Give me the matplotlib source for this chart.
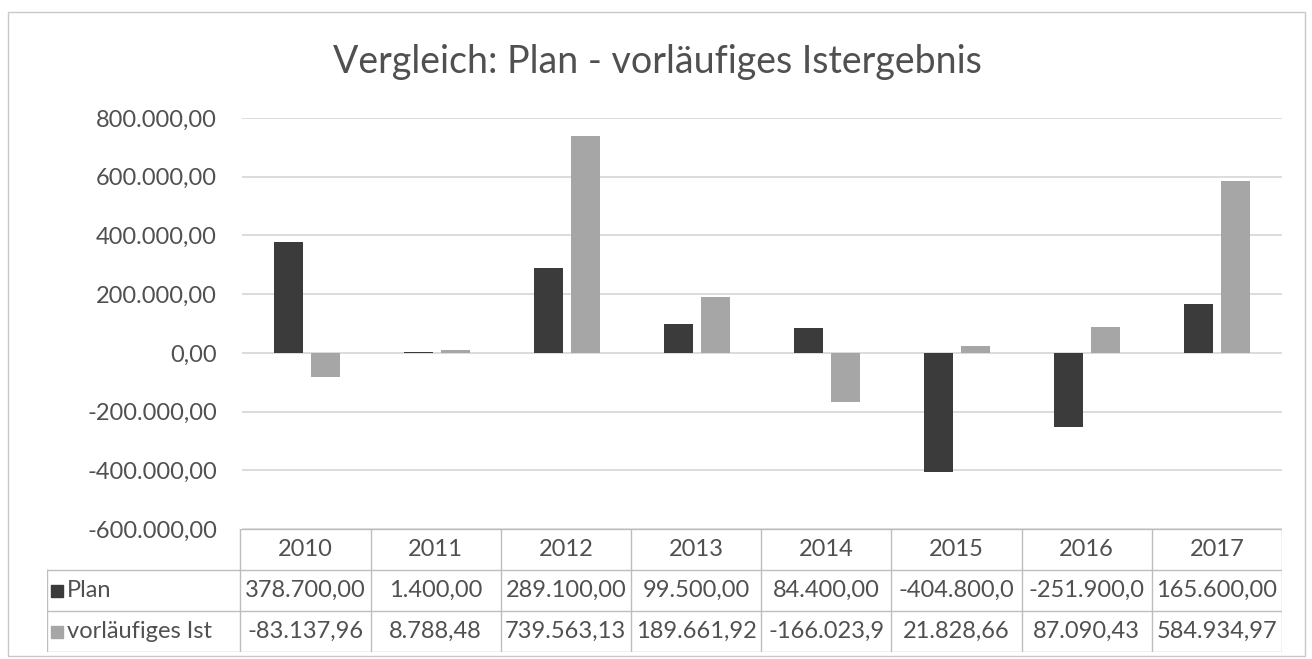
import numpy as np
import matplotlib
matplotlib.use('Agg')
import matplotlib.pyplot as plt
import matplotlib.patches as patches

plt.rcParams['font.family'] = ['Lato', 'DejaVu Sans']

jahre = ['2010', '2011', '2012', '2013', '2014', '2015', '2016', '2017']
plan = [378700.00, 1400.00, 289100.00, 99500.00, 84400.00, -404800.00, -251900.00, 165600.00]
ist = [-83137.96, 8788.48, 739563.13, 189661.92, -166023.90, 21828.66, 87090.43, 584934.97]
reihen = ['Plan', 'vorläufiges Ist']
yticks = [-600000, -400000, -200000, 0, 200000, 400000, 600000, 800000]

c_plan = '#3b3b3b'
c_ist = '#a6a6a6'
c_text = '#505050'
c_grid = '#d6d6d6'

W, H = 1312, 659


def de(v, n=None):
    # deutsches Zahlenformat; in der Tabelle schneidet Excel zu lange Werte ab
    s = f'{v:,.2f}'.replace(',', '_').replace('.', ',').replace('_', '.')
    return s if n is None else s[:n]


def box(l, t, r, b):
    return [l / W, 1 - b / H, (r - l) / W, (b - t) / H]


fig = plt.figure(figsize=(W / 100, H / 100), dpi=100)

# Rahmen des Diagramms
fig.patches.append(patches.Rectangle((8 / W, 1 - 656 / H), 1297 / W, 644 / H,
                                     transform=fig.transFigure, fill=False,
                                     edgecolor='#c8c8c8', lw=1))

fig.text(657 / W, 1 - 62 / H, 'Vergleich: Plan - vorläufiges Istergebnis',
         ha='center', va='center', fontsize=27, color=c_text)

ax = fig.add_axes(box(242, 118, 1282, 529))
x = np.arange(len(jahre))
bw = 0.225
ax.bar(x - 0.145, plan, bw, color=c_plan, zorder=3)
ax.bar(x + 0.145, ist, bw, color=c_ist, zorder=3)
ax.set_xlim(-0.5, len(jahre) - 0.5)
ax.set_ylim(-600000, 800000)
ax.set_yticks(yticks)
ax.set_yticklabels([de(v) for v in yticks], fontsize=17, color=c_text)
ax.tick_params(axis='y', length=0, pad=18)
ax.set_xticks([])
ax.grid(axis='y', color=c_grid, lw=1.2, zorder=0)
for s in ax.spines.values():
    s.set_visible(False)

# Datentabelle unter dem Diagramm
links = -0.5 - 193 / 130
tx = fig.add_axes(box(47, 529, 1282, 652))
tx.set_xlim(links, len(jahre) - 0.5)
tx.set_ylim(3, 0)
tx.axis('off')
lc = '#bdbdbd'
tx.plot([-0.5, len(jahre) - 0.5], [0, 0], color=lc, lw=1)
for r in [1, 2, 3]:
    tx.plot([links, len(jahre) - 0.5], [r, r], color=lc, lw=1)
for k in range(len(jahre) + 1):
    tx.plot([k - 0.5, k - 0.5], [0, 3], color=lc, lw=1)
tx.plot([links, links], [1, 3], color=lc, lw=1)

for i, j in enumerate(jahre):
    tx.text(i, 0.5, j, ha='center', va='center', fontsize=17, color=c_text)
    tx.text(i, 1.5, de(plan[i], 10), ha='center', va='center', fontsize=17, color=c_text)
    tx.text(i, 2.5, de(ist[i], 10), ha='center', va='center', fontsize=17, color=c_text)

for r, (name, c) in enumerate(zip(reihen, [c_plan, c_ist])):
    tx.plot(links + 0.075, r + 1.5, marker='s', ms=8, color=c, ls='none')
    tx.text(links + 0.15, r + 1.5, name, ha='left', va='center', fontsize=17, color=c_text)

fig.savefig('out.png', dpi=100)
